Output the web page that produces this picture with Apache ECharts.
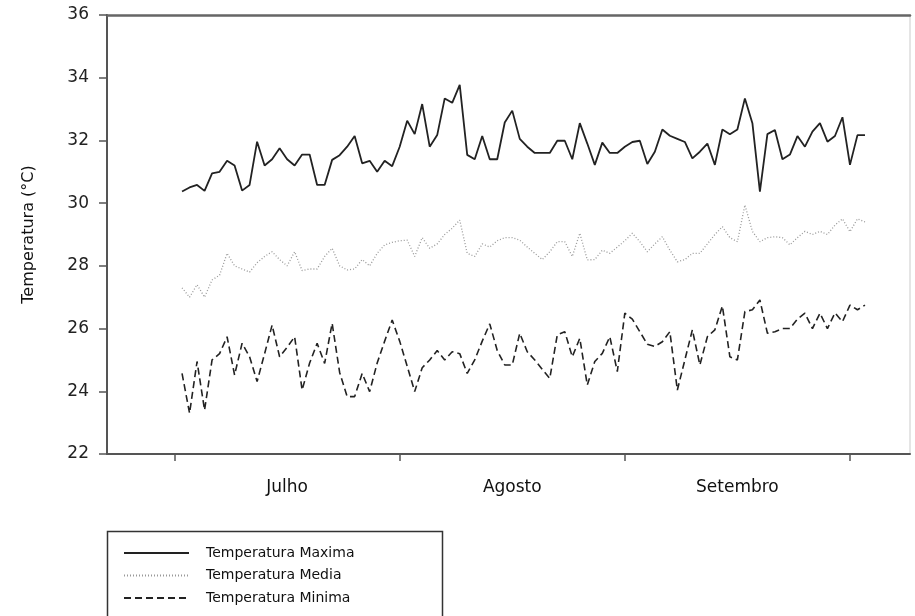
<!DOCTYPE html>
<html>
<head>
<meta charset="utf-8">
<script src="https://cdn.jsdelivr.net/npm/echarts@6/dist/echarts.min.js"></script>
<style>html,body{margin:0;padding:0;background:#fff}#c{width:915px;height:616px}</style>
</head>
<body>
<div id="c"></div>
<script>
// Day of season (1 = 1 July ... 92 = 30 September)
var days = [];
for (var d = 1; d <= 92; d++) days.push(d);

var monthTicks = [0, 30, 60, 90];
var monthLabelPos = [15, 45, 75];
var monthNames = ['Julho', 'Agosto', 'Setembro'];

var tempMax = [30.37,30.5,30.58,30.39,30.95,31.0,31.35,31.2,30.4,30.58,31.96,31.2,31.4,31.75,31.4,31.2,31.55,31.55,30.58,30.58,
31.38,31.53,31.8,32.14,31.27,31.35,31.0,31.35,31.18,31.8,32.63,32.2,33.16,31.8,32.17,33.34,33.2,33.77,31.54,31.4,
32.14,31.4,31.4,32.57,32.95,32.05,31.8,31.6,31.6,31.6,31.99,31.99,31.4,32.55,31.9,31.22,31.93,31.6,31.6,31.8,
31.95,31.99,31.25,31.64,32.35,32.15,32.05,31.95,31.43,31.64,31.9,31.22,32.35,32.2,32.35,33.34,32.55,30.37,32.2,32.33,
31.4,31.55,32.14,31.8,32.28,32.55,31.96,32.14,32.74,31.22,32.17,32.17];

var tempMed = [27.3,27.0,27.4,27.0,27.55,27.7,28.4,28.0,27.9,27.8,28.1,28.3,28.45,28.2,28.0,28.45,27.85,27.9,27.9,28.3,
28.56,28.0,27.87,27.9,28.2,28.0,28.4,28.67,28.75,28.8,28.82,28.3,28.9,28.56,28.7,29.0,29.2,29.46,28.4,28.3,
28.7,28.6,28.8,28.9,28.9,28.82,28.6,28.4,28.2,28.45,28.77,28.77,28.3,29.04,28.19,28.2,28.5,28.4,28.6,28.8,
29.04,28.77,28.45,28.7,28.93,28.5,28.13,28.2,28.4,28.4,28.7,29.0,29.25,28.9,28.77,29.94,29.1,28.77,28.9,28.93,
28.9,28.67,28.9,29.1,29.0,29.1,29.0,29.3,29.5,29.09,29.5,29.4];

var tempMin = [24.57,23.3,24.95,23.4,25.0,25.2,25.74,24.52,25.53,25.1,24.31,25.2,26.11,25.1,25.4,25.74,24.04,24.9,25.53,24.89,
26.17,24.6,23.83,23.83,24.57,23.99,24.9,25.6,26.27,25.6,24.8,23.99,24.75,25.0,25.3,25.0,25.26,25.2,24.57,25.0,
25.6,26.15,25.3,24.84,24.84,25.85,25.26,25.0,24.7,24.41,25.8,25.9,25.1,25.69,24.2,24.95,25.21,25.74,24.63,26.49,
26.3,25.9,25.5,25.43,25.58,25.9,24.04,25.0,25.96,24.84,25.74,25.96,26.72,25.1,25.0,26.54,26.6,26.91,25.85,25.9,
26.0,26.0,26.3,26.49,26.0,26.49,26.0,26.5,26.22,26.75,26.6,26.75];

function pairs(vals) { return days.map(function (d, i) { return [d, vals[i]]; }); }

var font = 'DejaVu Sans';
var chart = echarts.init(document.getElementById('c'));
chart.setOption({
  animation: false,
  backgroundColor: '#fff',
  grid: { left: 107, right: 5, top: 15, bottom: 162, containLabel: false },
  graphic: [{
    type: 'rect', left: 105, top: 529, silent: true, z: 0,
    shape: { width: 335, height: 110 },
    style: { fill: 'none', stroke: '#333', lineWidth: 1.5 }
  }],
  legend: {
    orient: 'vertical', left: 105, top: 530,
    padding: [16, 20, 2, 18],
    itemWidth: 65, itemHeight: 14, itemGap: 8.5,
    itemStyle: { opacity: 0, color: 'rgba(0,0,0,0)', borderWidth: 0 },
    textStyle: { fontFamily: font, fontSize: 14, color: '#111', padding: [0, 0, 0, 12] },
    data: ['Temperatura Maxima', 'Temperatura Media', 'Temperatura Minima']
  },
  xAxis: [{
    type: 'value', min: -9, max: 98,
    axisLine: { onZero: false, lineStyle: { color: '#555', width: 2 } },
    splitLine: { show: false },
    axisTick: { show: true, length: 7, inside: false, customValues: monthTicks, lineStyle: { color: '#555', width: 1.5 } },
    axisLabel: {
      customValues: monthLabelPos, margin: 25, fontFamily: font, fontSize: 17, color: '#111',
      formatter: function (v) { var i = monthLabelPos.indexOf(v); return i >= 0 ? monthNames[i] : ''; }
    }
  }, {
    type: 'value', position: 'top', min: -9, max: 98,
    axisLine: { show: true, onZero: false, lineStyle: { color: '#666', width: 2.5 } },
    axisTick: { show: false }, axisLabel: { show: false }, splitLine: { show: false }
  }],
  yAxis: [{
    type: 'value', min: 22, max: 36, interval: 2,
    name: 'Temperatura (°C)', nameLocation: 'middle', nameGap: 70, nameRotate: 90,
    nameTextStyle: { fontFamily: font, fontSize: 16, color: '#111' },
    axisLine: { show: true, onZero: false, lineStyle: { color: '#555', width: 2 } },
    axisTick: { show: true, length: 8, lineStyle: { color: '#555', width: 1.5 } },
    axisLabel: { fontFamily: font, fontSize: 17, color: '#222', margin: 18 },
    splitLine: { show: false }
  }, {
    type: 'value', position: 'right', min: 22, max: 36,
    axisLine: { show: true, onZero: false, lineStyle: { color: '#ddd', width: 1.5 } },
    axisTick: { show: false }, axisLabel: { show: false }, splitLine: { show: false }
  }],
  series: [{
    name: 'Temperatura Maxima', type: 'line', symbol: 'none', data: pairs(tempMax),
    lineStyle: { color: '#222', width: 1.8 }, itemStyle: { color: '#222' }
  }, {
    name: 'Temperatura Media', type: 'line', symbol: 'none', data: pairs(tempMed),
    lineStyle: { color: '#999', width: 1.3, type: [1, 2] }, itemStyle: { color: '#999' }
  }, {
    name: 'Temperatura Minima', type: 'line', symbol: 'none', data: pairs(tempMin),
    lineStyle: { color: '#222', width: 1.6, type: [7, 4] }, itemStyle: { color: '#222' }
  }]
});
</script>
</body>
</html>
